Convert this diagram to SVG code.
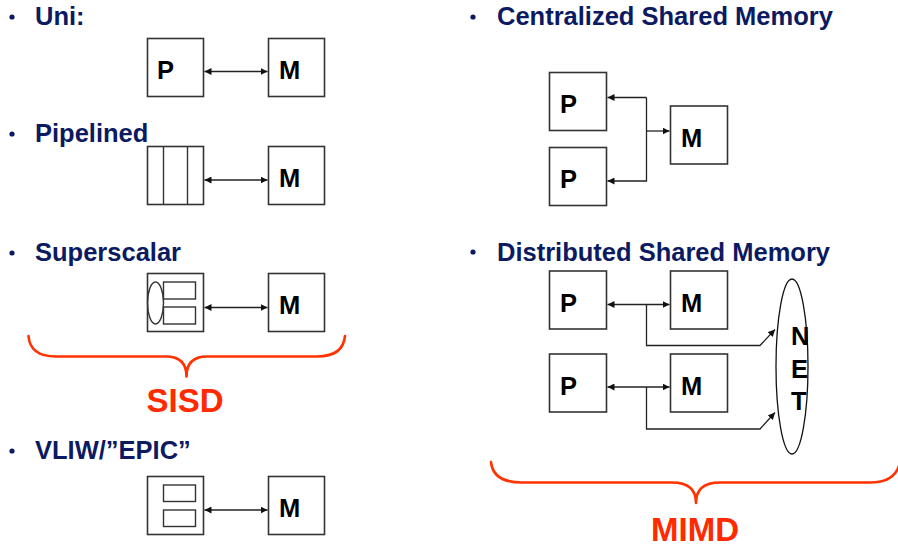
<svg xmlns="http://www.w3.org/2000/svg" width="898" height="546" viewBox="0 0 898 546">
  <defs>
    <marker id="head" markerUnits="userSpaceOnUse" markerWidth="8" markerHeight="7" refX="7" refY="3.5" orient="auto-start-reverse">
      <path d="M0,0 L7,3.5 L0,7 z" fill="#111"/>
    </marker>
  </defs>
  <style>
    .title { font-family: "Liberation Sans", Arial, sans-serif; font-weight: bold; font-size: 25.5px; fill: #0c1a62; }
    .dot { fill: #0c1a62; }
    .box { fill: #fff; stroke: #333; stroke-width: 1.6; }
    .inner { fill: none; stroke: #333; stroke-width: 1.4; }
    .lbl { font-family: "Liberation Sans", Arial, sans-serif; font-weight: bold; font-size: 25.5px; fill: #000; }
    .link { fill: none; stroke: #222; stroke-width: 1.3; }
    .brace { fill: none; stroke: #ff3300; stroke-width: 2.6; stroke-linecap: round; stroke-linejoin: round; }
    .cls { font-family: "Liberation Sans", Arial, sans-serif; font-weight: bold; font-size: 33px; fill: #ff2a00; text-anchor: middle; }
  </style>
  <rect width="898" height="546" fill="#fff"/>

  <!-- bullet headings -->
  <g id="headings">
    <circle class="dot" cx="12" cy="17" r="2.6"/>
    <text class="title" x="35" y="25">Uni:</text>
    <circle class="dot" cx="12" cy="134" r="2.6"/>
    <text class="title" x="35" y="142">Pipelined</text>
    <circle class="dot" cx="12" cy="253" r="2.6"/>
    <text class="title" x="35" y="261">Superscalar</text>
    <circle class="dot" cx="12" cy="451" r="2.6"/>
    <text class="title" x="35" y="459">VLIW/”EPIC”</text>
    <circle class="dot" cx="473" cy="17" r="2.6"/>
    <text class="title" x="497" y="25">Centralized Shared Memory</text>
    <circle class="dot" cx="473" cy="252" r="2.6"/>
    <text class="title" x="497" y="261">Distributed Shared Memory</text>
  </g>

  <!-- Uni -->
  <g id="uni-p">
    <rect class="box" x="147.5" y="38.5" width="56" height="58"/>
    <text class="lbl" x="157" y="79">P</text>
  </g>
  <g id="uni-m">
    <rect class="box" x="268.5" y="38.5" width="56" height="58"/>
    <text class="lbl" x="279" y="79">M</text>
  </g>

  <!-- Pipelined -->
  <g id="pipe-p">
    <rect class="box" x="147.5" y="146.5" width="56" height="58"/>
    <line class="inner" x1="163.5" y1="146.5" x2="163.5" y2="204.5"/>
    <line class="inner" x1="187.5" y1="146.5" x2="187.5" y2="204.5"/>
  </g>
  <g id="pipe-m">
    <rect class="box" x="268.5" y="146.5" width="56" height="58"/>
    <text class="lbl" x="279" y="187">M</text>
  </g>

  <!-- Superscalar -->
  <g id="super-p">
    <rect class="box" x="147.5" y="273.5" width="56" height="58"/>
    <ellipse class="inner" cx="155.5" cy="303" rx="8" ry="21"/>
    <rect class="inner" x="163.5" y="282" width="32" height="17"/>
    <rect class="inner" x="163.5" y="307" width="32" height="17"/>
  </g>
  <g id="super-m">
    <rect class="box" x="268.5" y="273.5" width="56" height="58"/>
    <text class="lbl" x="279" y="314">M</text>
  </g>

  <!-- VLIW -->
  <g id="vliw-p">
    <rect class="box" x="147.5" y="476.5" width="56" height="58"/>
    <rect class="inner" x="163.5" y="485" width="32" height="16.5"/>
    <rect class="inner" x="163.5" y="510" width="32" height="16.5"/>
  </g>
  <g id="vliw-m">
    <rect class="box" x="268.5" y="476.5" width="56" height="58"/>
    <text class="lbl" x="279" y="517">M</text>
  </g>

  <!-- Centralized shared memory -->
  <g id="csm-p1">
    <rect class="box" x="549.5" y="72.5" width="57" height="58"/>
    <text class="lbl" x="560" y="113">P</text>
  </g>
  <g id="csm-p2">
    <rect class="box" x="549.5" y="147.5" width="57" height="58"/>
    <text class="lbl" x="560" y="188">P</text>
  </g>
  <g id="csm-m">
    <rect class="box" x="670.5" y="106" width="57" height="58"/>
    <text class="lbl" x="681" y="147">M</text>
  </g>

  <!-- Distributed shared memory -->
  <g id="dsm-p1">
    <rect class="box" x="549.5" y="271" width="57" height="58"/>
    <text class="lbl" x="560" y="312">P</text>
  </g>
  <g id="dsm-m1">
    <rect class="box" x="670.5" y="271" width="57" height="58"/>
    <text class="lbl" x="681" y="312">M</text>
  </g>
  <g id="dsm-p2">
    <rect class="box" x="549.5" y="354" width="57" height="58"/>
    <text class="lbl" x="560" y="395">P</text>
  </g>
  <g id="dsm-m2">
    <rect class="box" x="670.5" y="354" width="57" height="58"/>
    <text class="lbl" x="681" y="395">M</text>
  </g>
  <g id="net">
    <ellipse fill="none" stroke="#111" stroke-width="1.3" cx="792" cy="366.5" rx="16" ry="87.5"/>
    <text class="lbl" x="791" y="345">N</text>
    <text class="lbl" x="791" y="378">E</text>
    <text class="lbl" x="791" y="410">T</text>
  </g>

  <!-- connectors -->
  <g id="connectors">
    <line class="link" x1="204.5" y1="71.5" x2="267.5" y2="71.5" marker-start="url(#head)" marker-end="url(#head)"/>
    <line class="link" x1="204.5" y1="180" x2="267.5" y2="180" marker-start="url(#head)" marker-end="url(#head)"/>
    <line class="link" x1="204.5" y1="307.5" x2="267.5" y2="307.5" marker-start="url(#head)" marker-end="url(#head)"/>
    <line class="link" x1="204.5" y1="510" x2="267.5" y2="510" marker-start="url(#head)" marker-end="url(#head)"/>

    <path class="link" d="M646.5,97.5 L607.5,97.5" marker-end="url(#head)"/>
    <path class="link" d="M646.5,97.5 L646.5,181 L607.5,181" marker-end="url(#head)"/>
    <path class="link" d="M646.5,131 L669.5,131" marker-end="url(#head)"/>

    <line class="link" x1="607.5" y1="304.5" x2="669.5" y2="304.5" marker-start="url(#head)" marker-end="url(#head)"/>
    <path class="link" d="M646.5,304.5 L646.5,345.5 L760,345.5 L775,329.5" marker-end="url(#head)"/>
    <line class="link" x1="607.5" y1="387" x2="669.5" y2="387" marker-start="url(#head)" marker-end="url(#head)"/>
    <path class="link" d="M646.5,387 L646.5,429 L760,429 L775,412.5" marker-end="url(#head)"/>
  </g>

  <!-- classification braces -->
  <g id="sisd">
    <path class="brace" d="M28.5,336 Q30,356.5 56,356.5 L166,356.5 Q186.5,356.5 186.5,376.5 Q186.5,356.5 207,356.5 L317,356.5 Q343,356.5 345,336"/>
    <text class="cls" x="185" y="412">SISD</text>
  </g>
  <g id="mimd">
    <path class="brace" d="M491,462 Q493,482.5 522,482.5 L672,482.5 Q696,482.5 696,503 Q696,482.5 720,482.5 L870,482.5 Q896,482.5 900,462"/>
    <text class="cls" x="695" y="541">MIMD</text>
  </g>
</svg>
